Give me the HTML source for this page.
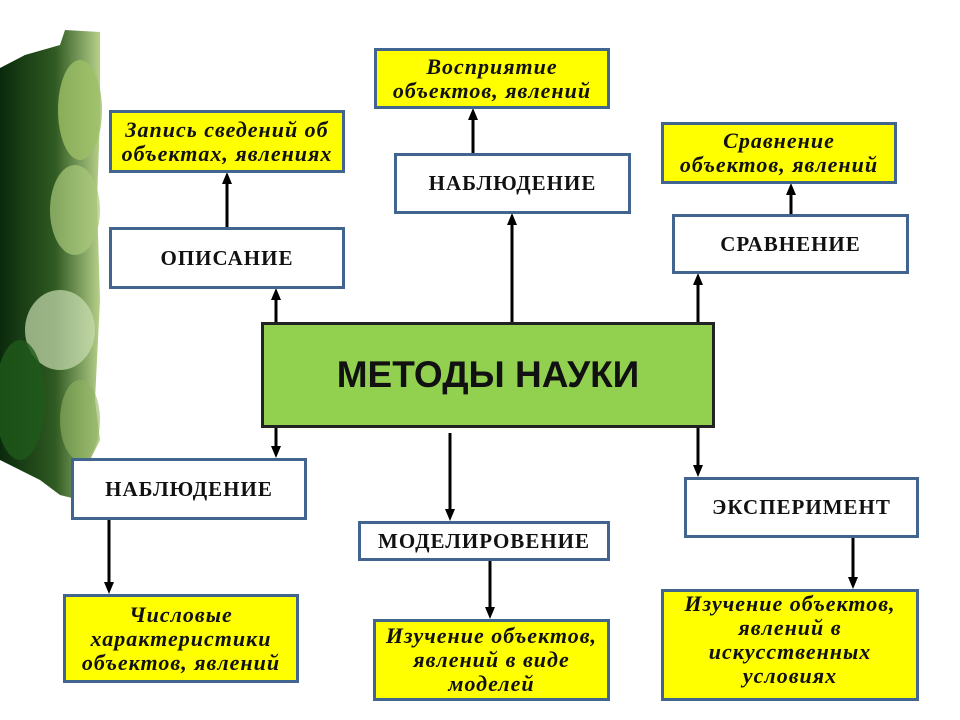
<!DOCTYPE html>
<html><head><meta charset="utf-8"><style>
body{margin:0;width:960px;height:720px;background:#fff;position:relative;overflow:hidden;font-family:"Liberation Serif",serif}
.b{position:absolute;box-sizing:border-box;border:3px solid #41658f;display:flex;align-items:center;justify-content:center;text-align:center;white-space:nowrap}
.w{background:#fff;font-weight:bold;font-size:21px;letter-spacing:1px;color:#111}
.y{background:#ffff00;font-style:italic;font-weight:bold;font-size:22px;letter-spacing:1px;line-height:24px;color:#111;overflow:hidden}
svg{position:absolute;left:0;top:0}
</style></head><body>
<svg width="960" height="720">
<defs><linearGradient id="g" x1="0" y1="0" x2="1" y2="0"><stop offset="0" stop-color="#0b2a0c"/><stop offset="0.55" stop-color="#2f5a22"/><stop offset="1" stop-color="#b6d08a"/></linearGradient>
<marker id="a" markerUnits="userSpaceOnUse" markerWidth="12" markerHeight="12" refX="6" refY="6" orient="auto"><path d="M0,1L12,6L0,11z" fill="#000"/></marker></defs>
<path d="M0,68 L25,55 L60,45 L65,30 L100,32 L100,120 L97,200 L100,300 L95,400 L100,440 L85,470 L80,500 L60,495 L40,480 L20,470 L0,460 Z" fill="url(#g)"/>
<ellipse cx="80" cy="110" rx="22" ry="50" fill="#9dbf66" opacity=".8"/>
<ellipse cx="75" cy="210" rx="25" ry="45" fill="#a9c97a" opacity=".7"/>
<ellipse cx="60" cy="330" rx="35" ry="40" fill="#c9ddb0" opacity=".7"/>
<ellipse cx="80" cy="420" rx="20" ry="40" fill="#8fb360" opacity=".6"/>
<ellipse cx="20" cy="400" rx="25" ry="60" fill="#1f5a1a" opacity=".8"/>
<g stroke="#000" stroke-width="3" marker-end="url(#a)">
<line x1="227" y1="227" x2="227" y2="178"/>
<line x1="276" y1="322" x2="276" y2="294"/>
<line x1="512" y1="322" x2="512" y2="219"/>
<line x1="473" y1="153" x2="473" y2="114"/>
<line x1="698" y1="322" x2="698" y2="279"/>
<line x1="791" y1="214" x2="791" y2="189"/>
<line x1="276" y1="427" x2="276" y2="452"/>
<line x1="450" y1="433" x2="450" y2="515"/>
<line x1="698" y1="427" x2="698" y2="471"/>
<line x1="109" y1="519" x2="109" y2="588"/>
<line x1="490" y1="560" x2="490" y2="613"/>
<line x1="853" y1="537" x2="853" y2="583"/>
</g></svg>
<div class="b y" style="left:374px;top:48px;width:236px;height:61px">Восприятие<br>объектов, явлений</div>
<div class="b y" style="left:109px;top:110px;width:236px;height:63px">Запись сведений об<br>объектах, явлениях</div>
<div class="b y" style="left:661px;top:122px;width:236px;height:62px">Сравнение<br>объектов, явлений</div>
<div class="b w" style="left:394px;top:153px;width:237px;height:61px">НАБЛЮДЕНИЕ</div>
<div class="b w" style="left:109px;top:227px;width:236px;height:62px">ОПИСАНИЕ</div>
<div class="b w" style="left:672px;top:214px;width:237px;height:60px">СРАВНЕНИЕ</div>
<div class="b" style="left:261px;top:322px;width:454px;height:106px;background:#92d050;border-color:#222;font-family:'Liberation Sans',sans-serif;font-weight:bold;font-size:37px;color:#111">МЕТОДЫ НАУКИ</div>
<div class="b w" style="left:71px;top:458px;width:236px;height:62px">НАБЛЮДЕНИЕ</div>
<div class="b w" style="left:358px;top:521px;width:252px;height:40px">МОДЕЛИРОВЕНИЕ</div>
<div class="b w" style="left:684px;top:477px;width:235px;height:61px">ЭКСПЕРИМЕНТ</div>
<div class="b y" style="left:63px;top:594px;width:236px;height:89px">Числовые<br>характеристики<br>объектов, явлений</div>
<div class="b y" style="left:373px;top:619px;width:237px;height:82px;align-items:flex-start;padding-top:2px">Изучение объектов,<br>явлений в виде<br>моделей</div>
<div class="b y" style="left:661px;top:589px;width:258px;height:112px;align-items:flex-start;padding-top:0">Изучение объектов,<br>явлений в<br>искусственных<br>условиях</div>
</body></html>
